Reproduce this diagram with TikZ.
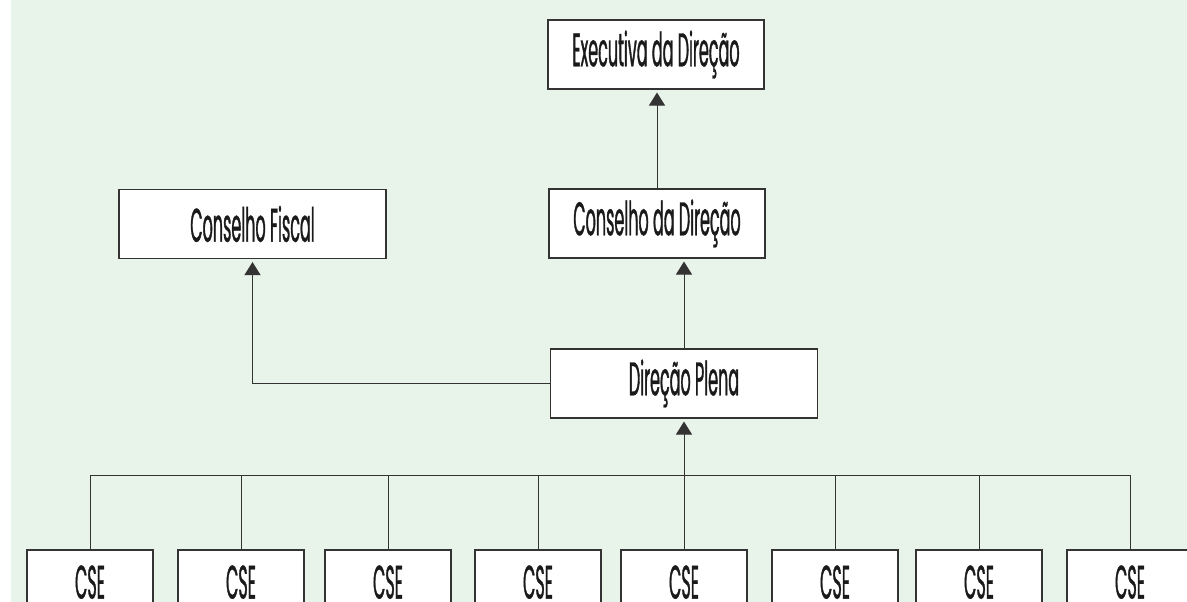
\documentclass[tikz,border=0pt]{standalone}
\usepackage{fontspec}
\setmainfont{Poppins}[FakeStretch=0.34,FakeBold=0.7]
\usetikzlibrary{arrows.meta}
\definecolor{bgc}{HTML}{E8F3EA}
\definecolor{lnc}{HTML}{333333}
\definecolor{txc}{HTML}{1A1A1A}
\begin{document}
\begin{tikzpicture}[x=1pt,y=-1pt,
  box/.style={draw=lnc,line width=1.1pt,fill=white,inner sep=0pt,text=txc,font=\fontsize{47}{50}\selectfont},
  big/.style={box,minimum height=69pt},
  cse/.style={box,minimum width=126pt,minimum height=69pt},
  conn/.style={draw=lnc,line width=0.9pt},
  arr/.style={conn,-{Triangle[width=16pt,length=13pt]},shorten >=3pt}]
\useasboundingbox (0,0) rectangle (1187,602);
\fill[bgc] (11,0) rectangle (1187,602);
\node[big,minimum width=216pt] (exec) at (656,54.5) {Executiva da Direção};
\node[big,minimum width=216pt] (cdir) at (657,223.5) {Conselho da Direção};
\node[big,minimum width=267pt] (fiscal) at (252.5,224) {Conselho Fiscal};
\node[big,minimum width=267pt] (plena) at (684,383.5) {Direção Plena};
\foreach \i/\x in {1/90,2/241,3/388,4/538,5/684,6/835,7/979,8/1130}{
  \node[cse] (c\i) at (\x,584.5) {\raisebox{5pt}{CSE}};
}
\coordinate (bus) at (0,475);
\draw[conn] (c1.north) -- (c1.north |- bus) -- (c8.north |- bus) -- (c8.north);
\foreach \i in {2,3,4,6,7}{
  \draw[conn] (c\i.north) -- (c\i.north |- bus);
}
\draw[arr] (c5.north) -- (plena.south);
\draw[arr] (plena.north) -- (cdir.south -| plena.north);
\draw[arr] (cdir.north) -- (exec.south -| cdir.north);
\draw[arr] (plena.west) -| (fiscal.south);
\end{tikzpicture}
\end{document}
